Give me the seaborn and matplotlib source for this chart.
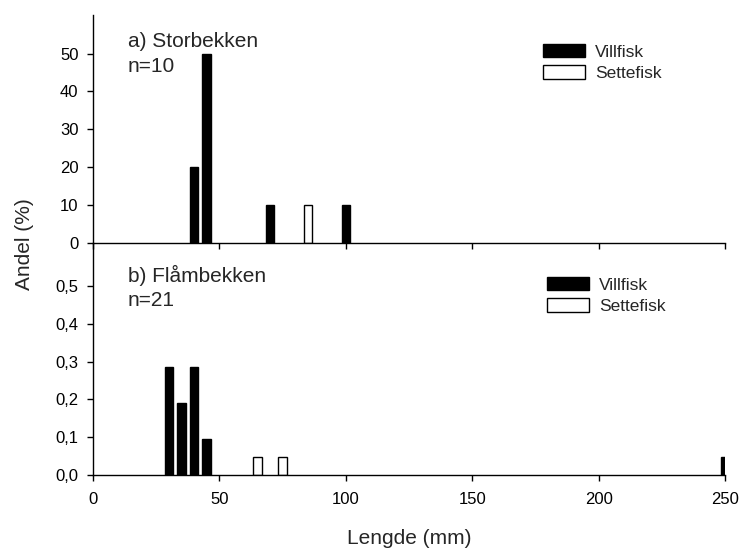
import numpy as np
import pandas as pd
import matplotlib
matplotlib.use('Agg')
import matplotlib.pyplot as plt
import seaborn as sns
from matplotlib.patches import Patch
from matplotlib.ticker import FuncFormatter

# data
storbekken_length = [40, 45, 70, 85, 100]
storbekken_value = [20, 50, 10, 10, 10]
storbekken_type = ['Villfisk', 'Villfisk', 'Villfisk', 'Settefisk', 'Villfisk']

flambekken_length = [30, 35, 40, 45, 65, 75, 250]
flambekken_value = [0.286, 0.190, 0.286, 0.095, 0.048, 0.048, 0.048]
flambekken_type = ['Villfisk', 'Villfisk', 'Villfisk', 'Villfisk', 'Settefisk', 'Settefisk', 'Villfisk']

panel_names = ['a) Storbekken', 'b) Flåmbekken']
panel_n = ['n=10', 'n=21']
x_ticks = [0, 50, 100, 150, 200, 250]

sns.set_theme(style='ticks')
plt.rcParams['font.family'] = ['Liberation Sans', 'DejaVu Sans']

palette = {'Villfisk': 'black', 'Settefisk': 'white'}

df_a = pd.DataFrame({'length': storbekken_length, 'value': storbekken_value, 'type': storbekken_type})
df_b = pd.DataFrame({'length': flambekken_length, 'value': flambekken_value, 'type': flambekken_type})

W, H = 742, 552
fig = plt.figure(figsize=(W / 100, H / 100), dpi=100)
left, right = 93 / W, 725 / W
ax_a = fig.add_axes([left, 1 - 242.7 / H, right - left, (242.7 - 15) / H])
ax_b = fig.add_axes([left, 1 - 475 / H, right - left, (475 - 242.7) / H])

# pixel positions of the panel labels and legends (figure px from top)
title_y = [(47, 71.5), (282, 305.5)]
legend_xy = [(543, 44), (547, 277)]

for i, (ax, df, ymax) in enumerate([(ax_a, df_a, 60.2), (ax_b, df_b, 0.6146)]):
    sns.barplot(data=df, x='length', y='value', hue='type', native_scale=True, dodge=False,
                palette=palette, saturation=1, edgecolor='black', linewidth=1,
                width=0.68, errorbar=None, legend=False, ax=ax)
    ax.set_xlim(0, 250)
    ax.set_ylim(0, ymax)
    ax.set_xticks(x_ticks)
    ax.set_xlabel('')
    ax.set_ylabel('')
    for s in ['top', 'right']:
        ax.spines[s].set_visible(False)
    for s in ['left', 'bottom']:
        ax.spines[s].set_linewidth(1)
        ax.spines[s].set_color('black')
    ax.tick_params(axis='both', direction='out', length=4.5, width=1, color='black',
                   labelsize=12, labelcolor='black')
    ax.tick_params(axis='y', pad=6)
    ax.tick_params(axis='x', pad=8)
    ax.patch.set_alpha(0)

    fig.text(128 / W, 1 - title_y[i][0] / H, panel_names[i], fontsize=15, va='baseline', ha='left')
    fig.text(128 / W, 1 - title_y[i][1] / H, panel_n[i], fontsize=15, va='baseline', ha='left')

    handles = [Patch(facecolor='black', edgecolor='black', label='Villfisk'),
               Patch(facecolor='white', edgecolor='black', label='Settefisk')]
    lx, ly = legend_xy[i]
    ax.legend(handles=handles, loc='upper left',
              bbox_to_anchor=(lx / W, 1 - ly / H), bbox_transform=fig.transFigure,
              frameon=False, fontsize=12.5, handlelength=2.4, handleheight=0.8,
              handletextpad=0.6, labelspacing=0.32, borderpad=0, borderaxespad=0)

ax_a.set_yticks([0, 10, 20, 30, 40, 50])
ax_a.tick_params(axis='x', labelbottom=False)
ax_b.set_yticks([0, 0.1, 0.2, 0.3, 0.4, 0.5])
ax_b.yaxis.set_major_formatter(FuncFormatter(lambda v, p: f'{v:.1f}'.replace('.', ',')))

fig.text(24 / W, 1 - 244 / H, 'Andel (%)', rotation=90, ha='center', va='center', fontsize=15)
fig.text(409 / W, 1 - 539 / H, 'Lengde (mm)', ha='center', va='center', fontsize=15)

fig.savefig('out.png', dpi=100)
